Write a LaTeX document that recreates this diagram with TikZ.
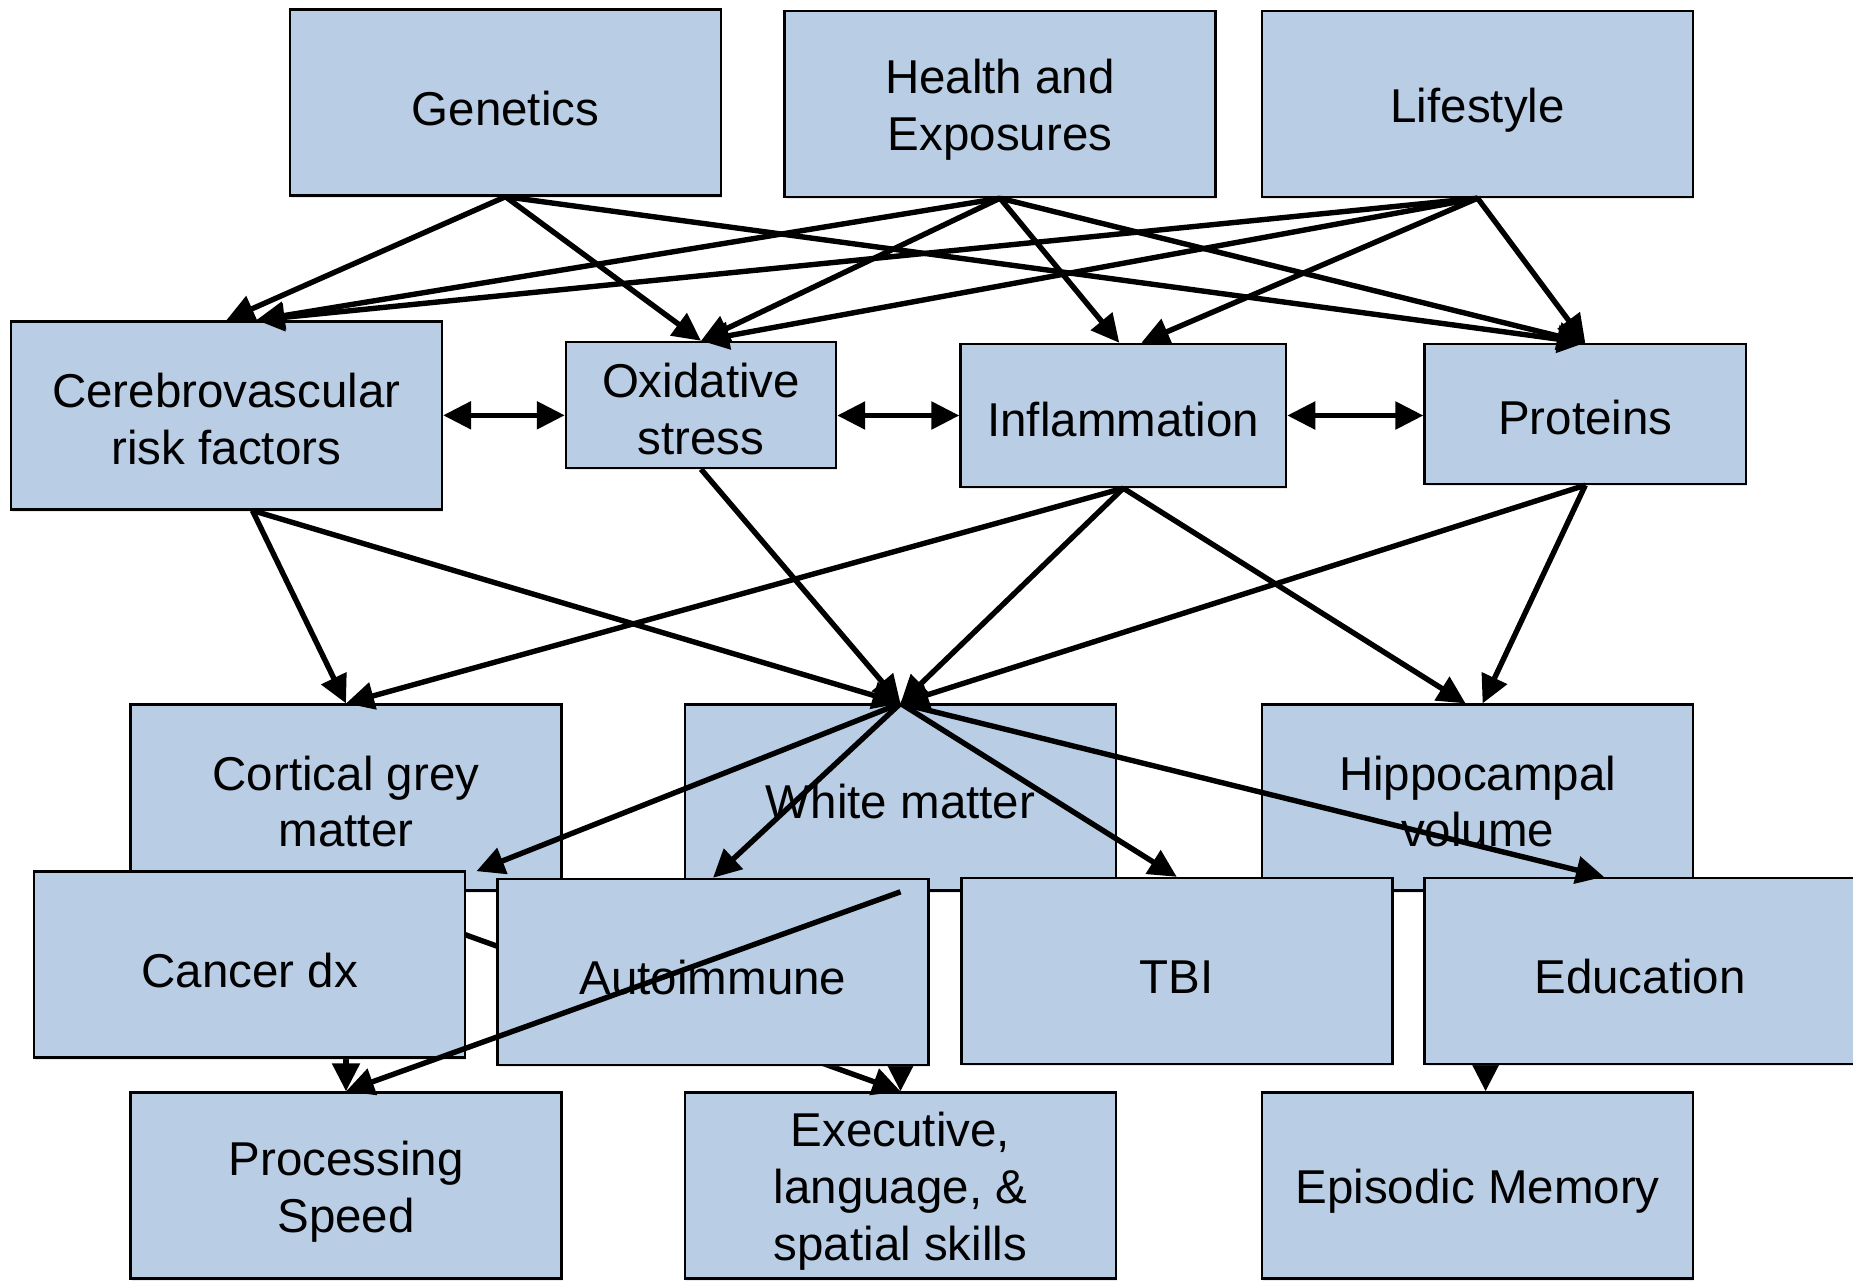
\documentclass[tikz,border=0pt]{standalone}
\usepackage{fontspec}
\setmainfont{Liberation Sans}
\usetikzlibrary{arrows.meta,calc,shadows}
\definecolor{boxblue}{HTML}{B9CDE5}
\begin{document}
\begin{tikzpicture}[x=0.5pt,y=-0.5pt,
  box/.style={draw=black, line width=1.2pt, fill=boxblue, inner sep=0pt,
    minimum width=215.5pt, minimum height=93pt,
    drop shadow={shadow xshift=0.6pt, shadow yshift=-1.2pt, opacity=0.18}},
  lbl/.style={align=center, inner sep=0pt, yshift=-3pt,
    font=\fontsize{23.75}{28.4}\selectfont},
  arr/.style={line width=2.7pt, -{Triangle[length=14pt,width=13.5pt]}},
  darr/.style={line width=2.7pt, {Triangle[length=14pt,width=13.5pt]}-{Triangle[length=14pt,width=13.5pt]}}]
\useasboundingbox (0,0) rectangle (1853,1280);
\clip (0,0) rectangle (1853,1280);
% top tier
\node[box, label={[lbl]center:{Genetics}}] (G) at (505.5,102.5) {};
\node[box, label={[lbl]center:{Health and\\Exposures}}] (H) at (1000,104) {};
\node[box, label={[lbl]center:{Lifestyle}}] (L) at (1477.6,104) {};
% middle tier
\node[box, minimum height=94pt, label={[lbl,yshift=1pt]center:{Cerebrovascular\\risk factors}}] (C) at (226.4,415.3) {};
\node[box, minimum width=135pt, minimum height=63pt, label={[lbl,yshift=1pt]center:{Oxidative\\stress}}] (O) at (701,405) {};
\node[box, minimum width=162.75pt, minimum height=71.5pt, label={[lbl,yshift=1pt]center:{Inflammation}}] (I) at (1123.3,415.5) {};
\node[box, minimum width=160.7pt, minimum height=70pt, label={[lbl,yshift=1pt]center:{Proteins}}] (P) at (1585.3,414) {};
% brain tier
\node[box, label={[lbl,yshift=1pt]center:{Cortical grey\\matter}}] (CG) at (346,797.6) {};
\node[box, label={[lbl,yshift=1pt]center:{White matter}}] (W) at (900.5,797.6) {};
\node[box, label={[lbl,yshift=1pt]center:{Hippocampal\\volume}}] (HV) at (1477.6,797.6) {};
% outcomes
\node[box, label={[lbl]center:{Processing\\Speed}}] (PS) at (346,1185.5) {};
\node[box, label={[lbl]center:{Executive,\\language, \&\\spatial skills}}] (EX) at (900.5,1185.5) {};
\node[box, label={[lbl]center:{Episodic Memory}}] (EM) at (1477.6,1185.5) {};
% top -> middle
\draw[arr] (G.south) -- (C.north);
\draw[arr] (G.south) -- (O.north);
\draw[arr] (G.south) -- (P.north);
\draw[arr] (H.south) -- ($(C.north)+(30,0)$);
\draw[arr] (H.south) -- (O.north);
\draw[arr] (H.south) -- ($(I.north)+(-4,0)$);
\draw[arr] (H.south) -- (P.north);
\draw[arr] (L.south) -- ($(C.north)+(30,0)$);
\draw[arr] (L.south) -- (O.north);
\draw[arr] (L.south) -- ($(I.north)+(18,0)$);
\draw[arr] (L.south) -- (P.north);
% middle bidirectional
\draw[darr] (C.east) -- (O.west |- C.east);
\draw[darr] (O.east |- I.west) -- (I.west);
\draw[darr] (I.east) -- (P.west |- I.east);
% middle -> brain
\coordinate (Cs) at ($(C.south)+(26,0)$);
\draw[arr] (Cs) -- (CG.north);
\draw[arr] (Cs) -- (W.north);
\draw[arr] (O.south) -- (W.north);
\draw[arr] (I.south) -- (CG.north);
\draw[arr] (I.south) -- (W.north);
\draw[arr] (I.south) -- ($(HV.north)+(-12,0)$);
\draw[arr] (P.south) -- (W.north);
\draw[arr] (P.south) -- ($(HV.north)+(5,0)$);
% hidden connectors
\draw[arr] (CG.south) -- (PS.north);
\draw[arr] (CG.south) -- (EX.north);
\draw[arr] (W.south) -- (EX.north);
\draw[arr] ($(HV.south)+(8,0)$) -- ($(EM.north)+(8,0)$);
% overlapping boxes
\node[box, label={[lbl]center:{Cancer dx}}] (CA) at (249.7,964.4) {};
\node[box, label={[lbl]center:{Autoimmune}}] (AU) at (713,972) {};
\node[box, label={[lbl]center:{TBI}}] (TB) at (1176.8,971) {};
\node[box, label={[lbl]center:{Education}}] (ED) at (1640,971) {};
% connectors drawn on top
\draw[arr] (W.north) -- ($(CA.north east)+(10,1)$);
\draw[arr] (W.north) -- (AU.north);
\draw[arr] (W.north) -- (TB.north);
\draw[arr] (W.north) -- ($(ED.north)+(-36,0)$);
\draw[arr] (W.south) -- (PS.north);
\end{tikzpicture}
\end{document}
